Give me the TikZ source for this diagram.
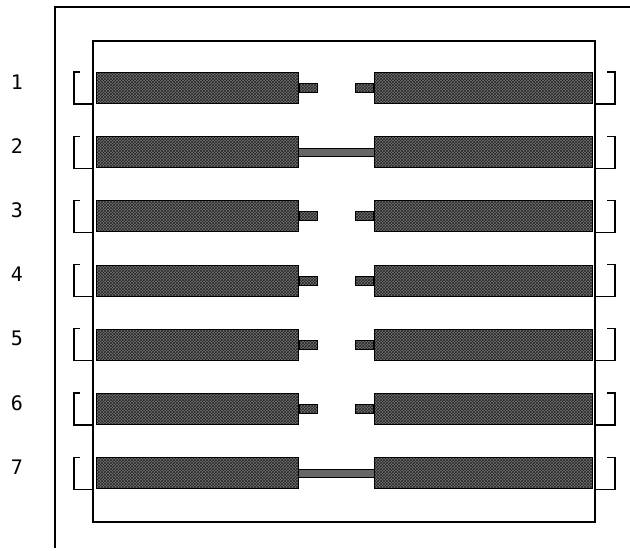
\documentclass[tikz,border=0pt]{standalone}
\usepackage{fontspec}
\setmonofont{DejaVu Sans Mono}
\usepackage{tikz}
\usetikzlibrary{positioning,patterns}
\tikzset{
  frame/.style={draw,line width=1.3pt},
  pinbar/.style={draw,line width=1pt,preaction={fill=black!55},pattern=crosshatch,pattern color=black!85,minimum height=31pt,inner sep=0pt},
  stub/.style={pinbar,minimum width=18pt,minimum height=9pt},
  link/.style={draw,line width=1pt,double=black!60,double distance=7pt},
  rowlabel/.style={font=\ttfamily\fontsize{20}{20}\selectfont,inner sep=0pt},
}
\begin{document}
\begin{tikzpicture}[x=1pt,y=-1pt]
\useasboundingbox (0,0) rectangle (630,550);

% outer frame, open at the bottom
\draw[frame] (55,548) -- (55,7) -- (630,7);
% inner frame
\coordinate (fTL) at (93,41);
\coordinate (fBR) at (595,522);
\draw[frame] (fTL) rectangle (fBR);

\foreach \i/\joined in {1/0,2/1,3/0,4/0,5/0,6/0,7/1}{
  \pgfmathsetmacro\yy{88+(\i-1)*64.2}
  \node[rowlabel] (n\i) at (17,\yy-6) {\i};
  \node[pinbar,minimum width=202pt,anchor=west] (L\i) at (96,\yy) {};
  \node[pinbar,minimum width=218pt,anchor=east] (R\i) at (593,\yy) {};
  % brackets on both sides
  \draw[frame] ([xshift=-16pt]L\i.north west) -| ([xshift=-22pt]L\i.south west) -- (L\i.south west -| fTL);
  \draw[frame] ([xshift=14pt]R\i.north east) -| ([xshift=22pt]R\i.south east) -- (R\i.south east -| fBR);
  \ifnum\joined=1
    \draw[link] (L\i) -- (R\i);
  \else
    \node[stub,right=0pt of L\i] (sl\i) {};
    \node[stub,left=0pt of R\i] (sr\i) {};
  \fi
}
\end{tikzpicture}
\end{document}
